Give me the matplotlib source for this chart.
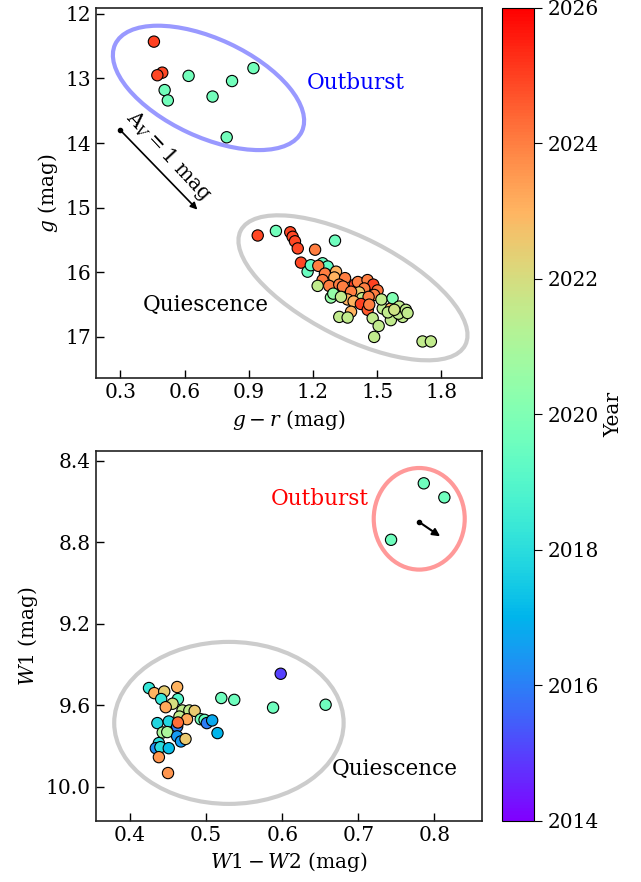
import matplotlib
matplotlib.use('Agg')
import matplotlib.pyplot as plt
import numpy as np
from matplotlib.patches import Ellipse
from matplotlib.colors import Normalize
from matplotlib.cm import ScalarMappable
import matplotlib.transforms as mtransforms

plt.rcParams['font.family'] = ['DejaVu Serif']
plt.rcParams['mathtext.fontset'] = 'dejavuserif'

# ---------------- data: ZTF g vs g-r ----------------
out_gr = [0.457, 0.496, 0.473, 0.619, 0.507, 0.522, 0.731, 0.822, 0.922, 0.797]
out_g = [12.43, 12.91, 12.95, 12.96, 13.18, 13.34, 13.28, 13.04, 12.84, 13.91]
out_yr = [2025.0, 2024.9, 2024.9, 2019.7, 2019.7, 2019.7, 2019.7, 2019.7, 2019.7, 2019.7]

q_gr = [0.942, 1.027, 1.094, 1.105, 1.116, 1.129, 1.303, 1.210, 1.144, 1.175,
        1.190, 1.245, 1.269, 1.270, 1.225, 1.256, 1.308, 1.300, 1.245, 1.276,
        1.222, 1.350, 1.323, 1.340, 1.396, 1.410, 1.455, 1.482, 1.502, 1.486,
        1.440, 1.416, 1.378, 1.362, 1.284, 1.295, 1.331, 1.430, 1.390, 1.460,
        1.424, 1.456, 1.463, 1.378, 1.323, 1.362, 1.479, 1.507, 1.486, 1.526,
        1.520, 1.564, 1.572, 1.564, 1.550, 1.603, 1.619, 1.600, 1.634, 1.642,
        1.580, 1.712, 1.751]
q_g = [15.43, 15.36, 15.38, 15.45, 15.52, 15.63, 15.51, 15.65, 15.85, 15.99,
       15.89, 15.86, 15.91, 16.05, 15.90, 16.02, 15.99, 16.08, 16.12, 16.21,
       16.21, 16.09, 16.19, 16.22, 16.19, 16.15, 16.12, 16.19, 16.28, 16.35,
       16.25, 16.31, 16.30, 16.42, 16.39, 16.33, 16.38, 16.40, 16.45, 16.38,
       16.49, 16.58, 16.50, 16.61, 16.69, 16.70, 16.71, 16.83, 17.00, 16.56,
       16.42, 16.56, 16.40, 16.74, 16.62, 16.53, 16.69, 16.64, 16.58, 16.63,
       16.58, 17.07, 17.07]
q_yr = [2024.9, 2019.7, 2024.9, 2024.9, 2024.9, 2024.9, 2019.6, 2024.0, 2024.9, 2019.5,
        2019.3, 2019.5, 2019.3, 2019.5, 2024.0, 2024.0, 2023.0, 2023.0, 2024.1, 2024.0,
        2021.5, 2024.0, 2024.0, 2024.0, 2025.0, 2024.0, 2024.0, 2025.0, 2024.2, 2024.0,
        2024.0, 2022.5, 2024.0, 2023.0, 2020.5, 2020.5, 2021.5, 2021.5, 2023.0, 2024.0,
        2025.0, 2024.6, 2024.0, 2023.0, 2021.5, 2021.5, 2021.5, 2021.5, 2021.5, 2021.5,
        2021.5, 2023.0, 2020.0, 2021.5, 2021.5, 2021.5, 2021.5, 2021.5, 2021.5, 2021.5,
        2021.8, 2021.5, 2021.5]

# ---------------- data: WISE W1 vs W1-W2 ----------------
wout_c = [0.786, 0.813, 0.743]
wout_w1 = [8.511, 8.580, 8.788]
wout_yr = [2019.6, 2019.6, 2019.6]

wq_c = [0.598, 0.520, 0.537, 0.588, 0.657, 0.425, 0.432, 0.445, 0.462, 0.441,
        0.463, 0.456, 0.447, 0.469, 0.478, 0.485, 0.465, 0.493, 0.498, 0.501,
        0.508, 0.475, 0.436, 0.451, 0.462, 0.463, 0.443, 0.449, 0.515, 0.462,
        0.467, 0.473, 0.438, 0.434, 0.440, 0.451, 0.438, 0.450]
wq_w1 = [9.445, 9.564, 9.573, 9.611, 9.597, 9.515, 9.540, 9.532, 9.510, 9.569,
         9.569, 9.592, 9.609, 9.625, 9.625, 9.627, 9.655, 9.668, 9.671, 9.687,
         9.674, 9.668, 9.687, 9.679, 9.704, 9.684, 9.733, 9.731, 9.736, 9.752,
         9.777, 9.765, 9.785, 9.810, 9.805, 9.810, 9.854, 9.932]
wq_yr = [2015.0, 2019.6, 2019.6, 2019.6, 2019.6, 2018.3, 2023.0, 2022.4, 2023.0, 2018.3,
         2019.0, 2022.0, 2023.2, 2021.5, 2021.5, 2022.5, 2021.5, 2019.8, 2019.5, 2016.0,
         2016.8, 2023.2, 2017.8, 2017.8, 2016.0, 2024.3, 2021.0, 2021.0, 2017.0, 2016.5,
         2016.5, 2022.5, 2018.0, 2016.3, 2018.0, 2017.2, 2023.6, 2023.6]

cbar_ticks = [2014, 2016, 2018, 2020, 2022, 2024, 2026]

# ---------------- figure ----------------
fig = plt.figure(figsize=(6.41, 8.82), dpi=100)
ax1 = fig.add_axes([0.1493, 0.5711, 0.6027, 0.4198])
ax2 = fig.add_axes([0.1493, 0.0692, 0.6027, 0.4198])
cax = fig.add_axes([0.7827, 0.0692, 0.0504, 0.9218])

norm = Normalize(vmin=2014, vmax=2026)
cmap = plt.get_cmap('rainbow')
FS = 14.5
TFS = 15.5
sc_kw = dict(cmap=cmap, norm=norm, s=66, edgecolors='black', linewidths=0.8, zorder=3)


def px_ellipse(ax, cx, cy, a_px, b_px, ang, color):
    tr = fig.dpi_scale_trans + mtransforms.ScaledTranslation(cx, cy, ax.transData)
    e = Ellipse((0, 0), 2 * a_px / 100.0, 2 * b_px / 100.0, angle=ang, fill=False,
                edgecolor=color, alpha=0.4, lw=3, transform=tr, zorder=1)
    ax.add_patch(e)


# top panel
ax1.set_xlim(0.185, 1.99)
ax1.set_ylim(17.64, 11.91)
ax1.scatter(out_gr, out_g, c=out_yr, **sc_kw)
ax1.scatter(q_gr, q_g, c=q_yr, **sc_kw)
px_ellipse(ax1, 0.712, 13.146, 103, 49, -25, 'blue')
px_ellipse(ax1, 1.387, 16.24, 126, 50, -27, 'grey')
ax1.text(1.172, 13.07, 'Outburst', color='blue', fontsize=TFS, ha='left', va='center')
ax1.text(0.697, 16.5, 'Quiescence', color='black', fontsize=TFS, ha='center', va='center')
ax1.annotate('', xy=(0.66, 15.03), xytext=(0.30, 13.80),
             arrowprops=dict(arrowstyle='-|>', color='k', lw=1.2, mutation_scale=10,
                             shrinkA=0, shrinkB=0))
ax1.plot([0.30], [13.80], 'o', color='k', ms=3)
ax1.text(0.525, 14.20, r'$\mathrm{A}_V=1$ mag', rotation=-47, fontsize=FS,
         ha='center', va='center', rotation_mode='anchor')
ax1.set_xticks([0.3, 0.6, 0.9, 1.2, 1.5, 1.8])
ax1.set_yticks([12, 13, 14, 15, 16, 17])
ax1.set_xlabel(r'$g-r$ (mag)', fontsize=FS)
ax1.set_ylabel(r'$g$ (mag)', fontsize=FS)

# bottom panel
ax2.set_xlim(0.355, 0.8625)
ax2.set_ylim(10.167, 8.351)
ax2.scatter(wout_c, wout_w1, c=wout_yr, **sc_kw)
ax2.scatter(wq_c, wq_w1, c=wq_yr, **sc_kw)
px_ellipse(ax2, 0.780, 8.685, 45.5, 50.8, 0, 'red')
px_ellipse(ax2, 0.530, 9.686, 114.7, 81, 0, 'grey')
ax2.text(0.649, 8.587, 'Outburst', color='red', fontsize=TFS, ha='center', va='center')
ax2.text(0.748, 9.911, 'Quiescence', color='black', fontsize=TFS, ha='center', va='center')
ax2.annotate('', xy=(0.8075, 8.771), xytext=(0.780, 8.701),
             arrowprops=dict(arrowstyle='-|>', color='k', lw=1.5, mutation_scale=11,
                             shrinkA=0, shrinkB=0))
ax2.plot([0.780], [8.701], 'o', color='k', ms=3)
ax2.set_xticks([0.4, 0.5, 0.6, 0.7, 0.8])
ax2.set_yticks([8.4, 8.8, 9.2, 9.6, 10.0])
ax2.set_xlabel(r'$W1-W2$ (mag)', fontsize=FS)
ax2.set_ylabel(r'$W1$ (mag)', fontsize=FS)

for ax in (ax1, ax2):
    ax.tick_params(direction='in', length=6, width=1, labelsize=FS, top=False, right=False)
    for sp in ax.spines.values():
        sp.set_linewidth(1.2)
        sp.set_color('#222222')

sm = ScalarMappable(norm=norm, cmap=cmap)
cb = fig.colorbar(sm, cax=cax)
cb.set_ticks(cbar_ticks)
cb.ax.tick_params(labelsize=FS, direction='out', length=6)
cb.set_label('Year', fontsize=FS)

fig.savefig('out.png', dpi=100)
